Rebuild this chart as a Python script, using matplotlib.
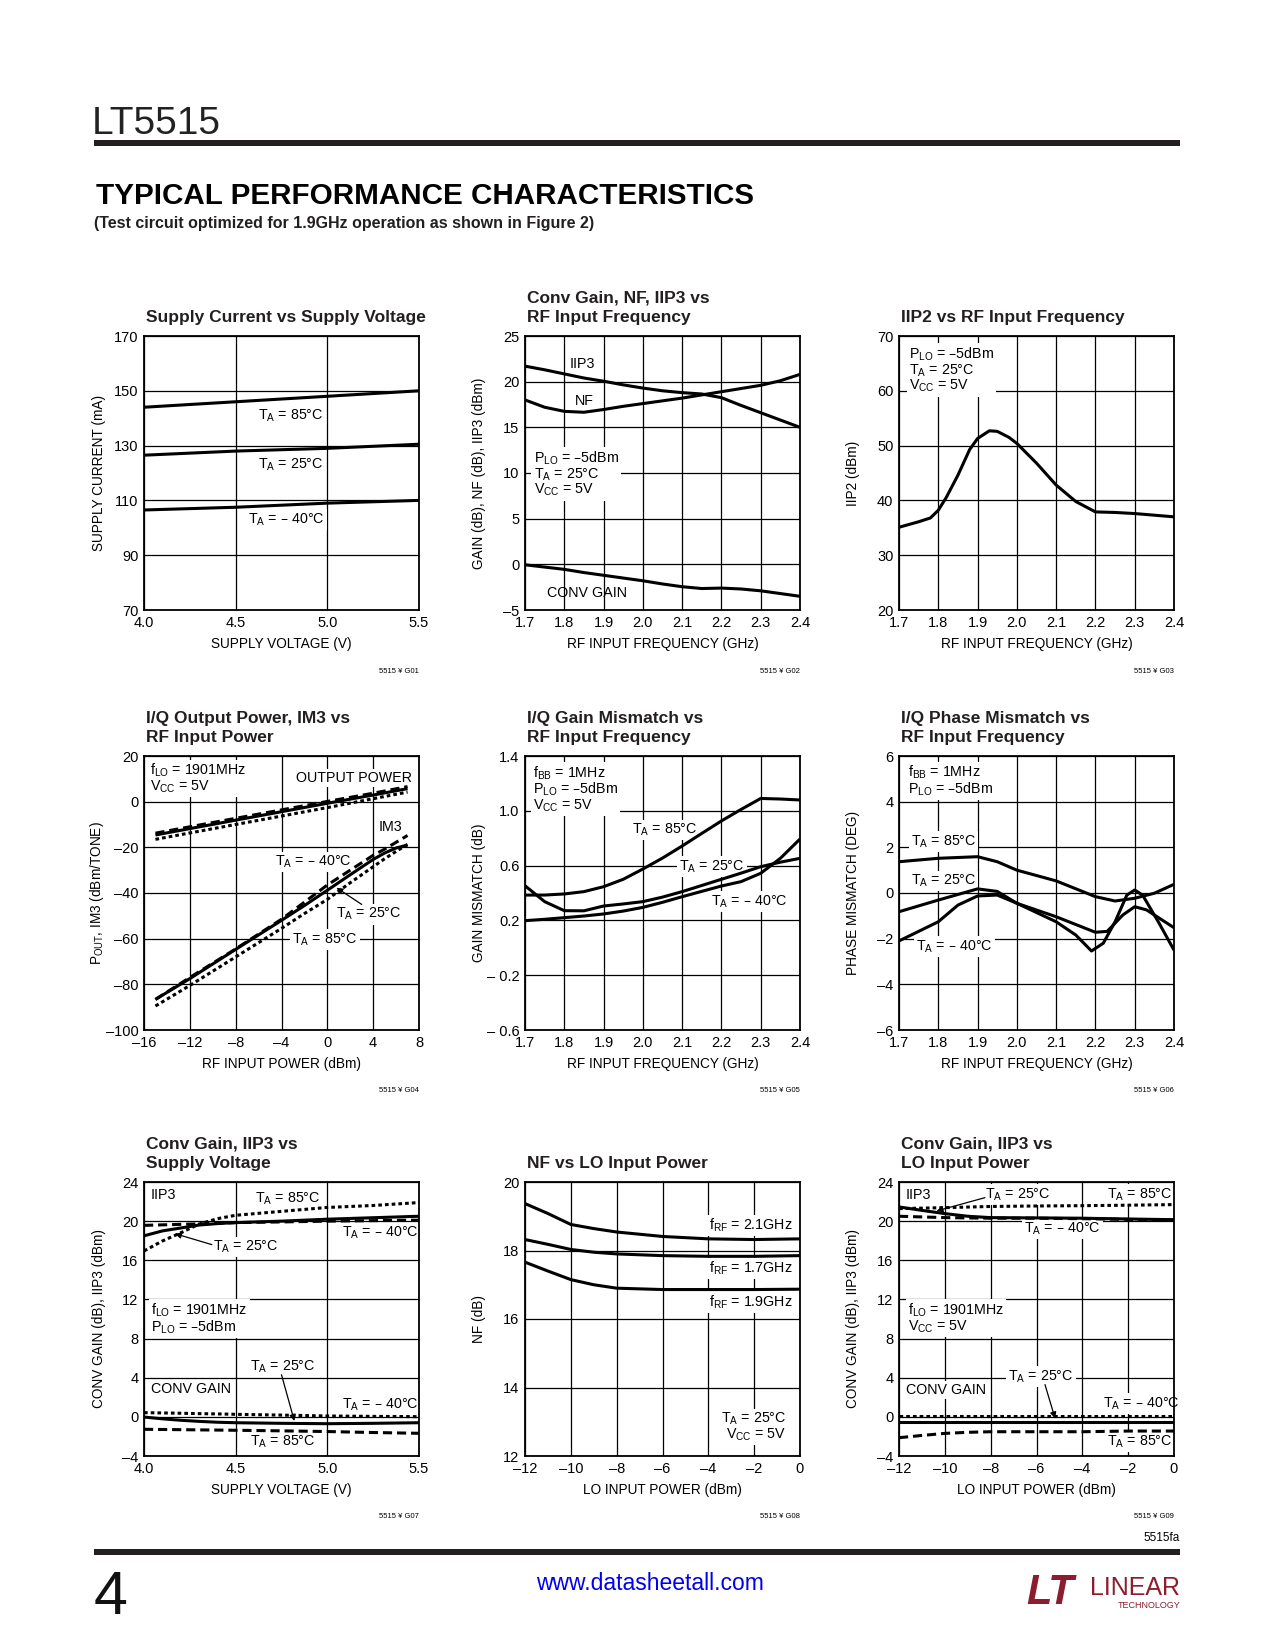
import matplotlib
matplotlib.use("Agg")
import matplotlib.pyplot as plt
from matplotlib.patches import Rectangle

plt.rcParams['font.family'] = ['Liberation Sans', 'DejaVu Sans']

# ---------------- data ----------------
# G01 supply current vs supply voltage
g01_v = [4.0, 4.5, 5.0, 5.5]
g01_i85 = [144, 146, 148, 150]
g01_i25 = [126.5, 128, 129, 130.5]
g01_im40 = [106.5, 107.5, 109, 110]

# G02 conv gain, NF, IIP3 vs RF frequency
g02_f = [1.7, 1.75, 1.8, 1.85, 1.9, 1.95, 2.0, 2.05, 2.1, 2.15, 2.2, 2.25, 2.3, 2.35, 2.4]
g02_iip3 = [21.7, 21.3, 20.85, 20.4, 20.05, 19.65, 19.3, 19.0, 18.8, 18.65, 18.25, 17.4, 16.6, 15.8, 15.0]
g02_nf = [18.0, 17.2, 16.75, 16.65, 16.95, 17.3, 17.6, 17.9, 18.2, 18.55, 18.9, 19.25, 19.6, 20.1, 20.8]
g02_gain = [-0.05, -0.3, -0.55, -0.9, -1.2, -1.5, -1.8, -2.15, -2.45, -2.65, -2.6, -2.7, -2.9, -3.2, -3.5]

# G03 IIP2 vs RF frequency
g03_f = [1.7, 1.75, 1.78, 1.8, 1.82, 1.85, 1.88, 1.9, 1.93, 1.95, 1.98, 2.0,
         2.05, 2.1, 2.15, 2.2, 2.25, 2.3, 2.35, 2.4]
g03_iip2 = [35.1, 36.1, 36.8, 38.2, 40.5, 44.6, 49.3, 51.3, 52.7, 52.6, 51.5, 50.4,
            46.8, 42.8, 39.8, 37.9, 37.8, 37.6, 37.3, 37.0]

# G04 output power / IM3 vs RF input power
g04_pin = [-15, -12, -8, -4, 0, 4, 7]
g04_out_m40 = [-13.8, -11.0, -7.3, -3.6, 0.1, 3.7, 6.6]
g04_out_25 = [-14.6, -11.8, -8.1, -4.4, -0.7, 2.9, 5.7]
g04_out_85 = [-16.5, -13.7, -10.0, -6.3, -2.6, 1.3, 4.2]
g04_pin_im3 = [-15, -12, -8, -4, -2, 0, 2, 4, 5, 6, 7]
g04_im3_25 = [-86.6, -77.5, -64.7, -52.0, -45.5, -38.8, -32.0, -25.3, -22.5, -20.3, -19.0]
g04_im3_m40 = [-86.6, -77.0, -64.5, -51.5, -44.0, -36.5, -30.0, -23.5, -20.8, -17.8, -14.8]
g04_im3_85 = [-89.5, -80.5, -68.0, -55.5, -49.0, -42.8, -35.5, -28.5, -25.0, -21.8, -18.7]

# G05 I/Q gain mismatch vs RF frequency
g05_f = [1.7, 1.75, 1.8, 1.85, 1.9, 1.95, 2.0, 2.05, 2.1, 2.15, 2.2, 2.25, 2.3, 2.35, 2.4]
g05_85 = [0.385, 0.385, 0.393, 0.41, 0.446, 0.5, 0.575, 0.655, 0.743, 0.835, 0.926, 1.01, 1.09, 1.086, 1.079]
g05_25 = [0.453, 0.337, 0.271, 0.27, 0.305, 0.32, 0.337, 0.37, 0.41, 0.455, 0.5, 0.545, 0.592, 0.625, 0.653]
g05_m40 = [0.198, 0.208, 0.22, 0.232, 0.247, 0.268, 0.295, 0.332, 0.373, 0.412, 0.451, 0.483, 0.544, 0.653, 0.794]

# G06 I/Q phase mismatch vs RF frequency
g06_f85 = [1.7, 1.8, 1.9, 1.95, 2.0, 2.1, 2.2, 2.25, 2.3, 2.35, 2.4]
g06_85 = [1.37, 1.52, 1.59, 1.37, 1.0, 0.53, -0.16, -0.35, -0.23, -0.01, 0.38]
g06_f25 = [1.7, 1.8, 1.9, 1.95, 2.0, 2.1, 2.2, 2.23, 2.27, 2.3, 2.33, 2.4]
g06_25 = [-0.82, -0.31, 0.18, 0.07, -0.45, -1.04, -1.72, -1.68, -0.96, -0.6, -0.74, -1.52]
g06_fm40 = [1.7, 1.8, 1.85, 1.9, 1.95, 2.0, 2.1, 2.15, 2.19, 2.22, 2.25, 2.28, 2.3, 2.32, 2.36, 2.4]
g06_m40 = [-2.1, -1.26, -0.53, -0.13, -0.09, -0.45, -1.26, -1.84, -2.54, -2.2, -1.26, -0.09, 0.13, -0.09, -1.26, -2.5]

# G07 conv gain, IIP3 vs supply voltage
g07_v = [4.0, 4.1, 4.2, 4.3, 4.4, 4.5, 4.75, 5.0, 5.25, 5.5]
g07_iip3_85 = [16.95, 17.97, 18.8, 19.7, 20.25, 20.6, 21.0, 21.4, 21.6, 21.9]
g07_iip3_25 = [18.5, 19.0, 19.3, 19.6, 19.75, 19.85, 20.0, 20.2, 20.35, 20.5]
g07_iip3_m40 = [19.57, 19.62, 19.67, 19.72, 19.78, 19.85, 19.92, 20.0, 20.05, 20.1]
g07_gain_m40 = [0.43, 0.4, 0.37, 0.33, 0.3, 0.26, 0.18, 0.09, 0.05, 0.02]
g07_gain_25 = [-0.02, -0.2, -0.35, -0.46, -0.55, -0.6, -0.66, -0.7, -0.66, -0.6]
g07_gain_85 = [-1.27, -1.29, -1.31, -1.33, -1.35, -1.37, -1.43, -1.5, -1.6, -1.68]

# G08 NF vs LO input power
g08_plo = [-12, -11, -10, -9, -8, -6, -4, -2, 0]
g08_nf21 = [19.37, 19.08, 18.76, 18.64, 18.54, 18.41, 18.34, 18.32, 18.34]
g08_nf17 = [18.32, 18.18, 18.03, 17.95, 17.9, 17.85, 17.83, 17.83, 17.85]
g08_nf19 = [17.66, 17.4, 17.15, 17.0, 16.9, 16.86, 16.86, 16.86, 16.87]

# G09 conv gain, IIP3 vs LO input power
g09_plo = [-12, -11, -10, -9, -8, -6, -4, -2, 0]
g09_iip3_85 = [21.28, 21.33, 21.38, 21.44, 21.5, 21.55, 21.58, 21.63, 21.69]
g09_iip3_25 = [21.45, 21.1, 20.77, 20.5, 20.36, 20.33, 20.3, 20.22, 20.15]
g09_iip3_m40 = [20.5, 20.43, 20.36, 20.33, 20.3, 20.3, 20.25, 20.18, 20.1]
g09_gain_m40 = [0.11, 0.11, 0.11, 0.11, 0.11, 0.11, 0.11, 0.11, 0.11]
g09_gain_25 = [-0.5, -0.5, -0.5, -0.5, -0.5, -0.5, -0.5, -0.5, -0.5]
g09_gain_85 = [-2.13, -1.9, -1.69, -1.58, -1.52, -1.52, -1.52, -1.45, -1.45]

# tick values and labels
freq_ticks = [1.7, 1.8, 1.9, 2.0, 2.1, 2.2, 2.3, 2.4]
freq_labels = ['1.7', '1.8', '1.9', '2.0', '2.1', '2.2', '2.3', '2.4']
volt_ticks = [4.0, 4.5, 5.0, 5.5]
volt_labels = ['4.0', '4.5', '5.0', '5.5']
lo_ticks = [-12, -10, -8, -6, -4, -2, 0]
lo_labels = ['–12', '–10', '–8', '–6', '–4', '–2', '0']
gain_ticks = [-4, 0, 4, 8, 12, 16, 20, 24]
gain_labels = ['–4', '0', '4', '8', '12', '16', '20', '24']

# ---------------- figure ----------------
W, H = 1275, 1650
fig = plt.figure(figsize=(12.75, 16.5), dpi=100)


def fx(x):
    return x / W


def fy(y):
    return 1 - y / H


cols = [144, 525, 899]
rows = [336, 756, 1182]
AW, AH = 275, 274

SOLID = dict(color='black', lw=2.2, solid_capstyle='butt', zorder=2)
DASH = dict(color='black', lw=2.2, ls=(0, (3, 1.6)), zorder=2)
DOT = dict(color='black', lw=2.2, ls=(0, (1.2, 1.0)), zorder=2)

TS = 10.5     # tick labels
LS = 9.8      # axis labels
NS = 10.3     # notes inside plots
SUB = r'$_\mathregular{%s}$'


def T(sub):
    return SUB % sub


def make_ax(c, r, title, code, xlim, ylim, xt, xl, yt, yl, xlabel, ylabel):
    ax = fig.add_axes([fx(cols[c]), fy(rows[r] + AH), AW / W, AH / H])
    ax.set_xlim(xlim)
    ax.set_ylim(ylim)
    ax.set_xticks(xt)
    ax.set_xticklabels(xl)
    ax.set_yticks(yt)
    ax.set_yticklabels(yl)
    ax.tick_params(length=0, labelsize=TS, pad=4)
    ax.grid(True, color='black', lw=0.9)
    ax.set_axisbelow(True)
    for s in ax.spines.values():
        s.set_linewidth(1.3)
    ax.set_xlabel(xlabel, fontsize=LS)
    ax.set_ylabel(ylabel, fontsize=LS)
    ax.xaxis.set_label_coords(0.5, -0.097)
    ax.yaxis.set_label_coords(-0.14, 0.5)
    fig.text(fx(cols[c] + 2), fy(rows[r] - 11), title, fontsize=12.5,
             fontweight='bold', ha='left', va='bottom', linespacing=1.35,
             color='#231f20')
    fig.text(fx(cols[c] + AW), fy(rows[r] + AH + 61), code, fontsize=5.5,
             ha='right', va='center')
    return ax


def note(ax, x, y, s, ha='left', va='center', box=True, ls=1.0):
    # white box hides the grid behind the label; curves stay on top
    kw = dict(fontsize=NS, ha=ha, va=va, linespacing=ls, zorder=1.5)
    if box:
        kw['bbox'] = dict(facecolor='white', edgecolor='none', pad=1.5)
    ax.text(x, y, s, **kw)


def arrow(ax, start, end):
    ax.annotate('', xy=end, xytext=start,
                arrowprops=dict(arrowstyle='-|>', color='black', lw=0.9,
                                mutation_scale=9, shrinkA=0, shrinkB=0))


# ---- G01
ax = make_ax(0, 0, 'Supply Current vs Supply Voltage', '5515 ¥ G01',
             (4.0, 5.5), (70, 170), volt_ticks, volt_labels,
             [70, 90, 110, 130, 150, 170], ['70', '90', '110', '130', '150', '170'],
             'SUPPLY VOLTAGE (V)', 'SUPPLY CURRENT (mA)')
ax.plot(g01_v, g01_i85, **SOLID)
ax.plot(g01_v, g01_i25, **SOLID)
ax.plot(g01_v, g01_im40, **SOLID)
note(ax, 4.62, 141, 'T' + T('A') + ' = 85°C')
note(ax, 4.62, 123, 'T' + T('A') + ' = 25°C')
note(ax, 4.57, 103, 'T' + T('A') + ' = – 40°C')

# ---- G02
ax = make_ax(1, 0, 'Conv Gain, NF, IIP3 vs\nRF Input Frequency', '5515 ¥ G02',
             (1.7, 2.4), (-5, 25), freq_ticks, freq_labels,
             [-5, 0, 5, 10, 15, 20, 25], ['–5', '0', '5', '10', '15', '20', '25'],
             'RF INPUT FREQUENCY (GHz)', 'GAIN (dB), NF (dB), IIP3 (dBm)')
ax.plot(g02_f, g02_iip3, **SOLID)
ax.plot(g02_f, g02_nf, **SOLID)
ax.plot(g02_f, g02_gain, **SOLID)
note(ax, 1.813, 21.9, 'IIP3')
note(ax, 1.826, 17.9, 'NF')
note(ax, 1.722, 9.9, 'P' + T('LO') + ' = –5dBm\nT' + T('A') + ' = 25°C\nV' + T('CC') + ' = 5V', ls=0.95)
note(ax, 1.755, -3.1, 'CONV GAIN', box=False)

# ---- G03
ax = make_ax(2, 0, 'IIP2 vs RF Input Frequency', '5515 ¥ G03',
             (1.7, 2.4), (20, 70), freq_ticks, freq_labels,
             [20, 30, 40, 50, 60, 70], ['20', '30', '40', '50', '60', '70'],
             'RF INPUT FREQUENCY (GHz)', 'IIP2 (dBm)')
ax.plot(g03_f, g03_iip2, **SOLID)
note(ax, 1.725, 63.8, 'P' + T('LO') + ' = –5dBm\nT' + T('A') + ' = 25°C\nV' + T('CC') + ' = 5V', ls=0.95)

# ---- G04
ax = make_ax(0, 1, 'I/Q Output Power, IM3 vs\nRF Input Power', '5515 ¥ G04',
             (-16, 8), (-100, 20), [-16, -12, -8, -4, 0, 4, 8],
             ['–16', '–12', '–8', '–4', '0', '4', '8'],
             [-100, -80, -60, -40, -20, 0, 20], ['–100', '–80', '–60', '–40', '–20', '0', '20'],
             'RF INPUT POWER (dBm)', 'P' + T('OUT') + ', IM3 (dBm/TONE)')
ax.plot(g04_pin, g04_out_m40, **DASH)
ax.plot(g04_pin, g04_out_25, **SOLID)
ax.plot(g04_pin, g04_out_85, **DOT)
ax.plot(g04_pin_im3, g04_im3_m40, **DASH)
ax.plot(g04_pin_im3, g04_im3_25, **SOLID)
ax.plot(g04_pin_im3, g04_im3_85, **DOT)
note(ax, -15.5, 10.2, 'f' + T('LO') + ' = 1901MHz\nV' + T('CC') + ' = 5V', ls=0.95)
note(ax, -2.76, 10.5, 'OUTPUT POWER')
note(ax, 4.45, -11.1, 'IM3')
note(ax, -4.57, -26.4, 'T' + T('A') + ' = – 40°C')
note(ax, 0.8, -49.3, 'T' + T('A') + ' = 25°C')
arrow(ax, (3.0, -45.0), (0.8, -37.7))
note(ax, -3.05, -60.3, 'T' + T('A') + ' = 85°C')

# ---- G05
ax = make_ax(1, 1, 'I/Q Gain Mismatch vs\nRF Input Frequency', '5515 ¥ G05',
             (1.7, 2.4), (-0.6, 1.4), freq_ticks, freq_labels,
             [-0.6, -0.2, 0.2, 0.6, 1.0, 1.4], ['– 0.6', '– 0.2', '0.2', '0.6', '1.0', '1.4'],
             'RF INPUT FREQUENCY (GHz)', 'GAIN MISMATCH (dB)')
ax.plot(g05_f, g05_85, **SOLID)
ax.plot(g05_f, g05_25, **SOLID)
ax.plot(g05_f, g05_m40, **SOLID)
note(ax, 1.721, 1.157, 'f' + T('BB') + ' = 1MHz\nP' + T('LO') + ' = –5dBm\nV' + T('CC') + ' = 5V', ls=0.95)
note(ax, 1.973, 0.86, 'T' + T('A') + ' = 85°C')
note(ax, 2.092, 0.592, 'T' + T('A') + ' = 25°C')
note(ax, 2.174, 0.337, 'T' + T('A') + ' = – 40°C')

# ---- G06
ax = make_ax(2, 1, 'I/Q Phase Mismatch vs\nRF Input Frequency', '5515 ¥ G06',
             (1.7, 2.4), (-6, 6), freq_ticks, freq_labels,
             [-6, -4, -2, 0, 2, 4, 6], ['–6', '–4', '–2', '0', '2', '4', '6'],
             'RF INPUT FREQUENCY (GHz)', 'PHASE MISMATCH (DEG)')
ax.plot(g06_f85, g06_85, **SOLID)
ax.plot(g06_f25, g06_25, **SOLID)
ax.plot(g06_fm40, g06_m40, **SOLID)
note(ax, 1.724, 4.91, 'f' + T('BB') + ' = 1MHz\nP' + T('LO') + ' = –5dBm', ls=0.95)
note(ax, 1.73, 2.25, 'T' + T('A') + ' = 85°C')
note(ax, 1.73, 0.53, 'T' + T('A') + ' = 25°C')
note(ax, 1.743, -2.35, 'T' + T('A') + ' = – 40°C')

# ---- G07
ax = make_ax(0, 2, 'Conv Gain, IIP3 vs\nSupply Voltage', '5515 ¥ G07',
             (4.0, 5.5), (-4, 24), volt_ticks, volt_labels, gain_ticks, gain_labels,
             'SUPPLY VOLTAGE (V)', 'CONV GAIN (dB), IIP3 (dBm)')
ax.plot(g07_v, g07_iip3_85, **DOT)
ax.plot(g07_v, g07_iip3_25, **SOLID)
ax.plot(g07_v, g07_iip3_m40, **DASH)
ax.plot(g07_v, g07_gain_m40, **DOT)
ax.plot(g07_v, g07_gain_25, **SOLID)
ax.plot(g07_v, g07_gain_85, **DASH)
note(ax, 4.036, 22.67, 'IIP3')
note(ax, 4.605, 22.3, 'T' + T('A') + ' = 85°C')
note(ax, 5.078, 18.8, 'T' + T('A') + ' = – 40°C')
note(ax, 4.378, 17.36, 'T' + T('A') + ' = 25°C')
arrow(ax, (4.37, 17.6), (4.169, 18.72))
note(ax, 4.04, 10.05, 'f' + T('LO') + ' = 1901MHz\nP' + T('LO') + ' = –5dBm', ls=0.95)
note(ax, 4.036, 2.82, 'CONV GAIN')
note(ax, 4.58, 5.13, 'T' + T('A') + ' = 25°C')
arrow(ax, (4.75, 4.3), (4.82, -0.42))
note(ax, 5.078, 1.28, 'T' + T('A') + ' = – 40°C')
note(ax, 4.58, -2.53, 'T' + T('A') + ' = 85°C')

# ---- G08
ax = make_ax(1, 2, 'NF vs LO Input Power', '5515 ¥ G08',
             (-12, 0), (12, 20), lo_ticks, lo_labels,
             [12, 14, 16, 18, 20], ['12', '14', '16', '18', '20'],
             'LO INPUT POWER (dBm)', 'NF (dB)')
ax.plot(g08_plo, g08_nf21, **SOLID)
ax.plot(g08_plo, g08_nf17, **SOLID)
ax.plot(g08_plo, g08_nf19, **SOLID)
note(ax, -0.33, 18.73, 'f' + T('RF') + ' = 2.1GHz', ha='right')
note(ax, -0.33, 17.47, 'f' + T('RF') + ' = 1.7GHz', ha='right')
note(ax, -0.33, 16.5, 'f' + T('RF') + ' = 1.9GHz', ha='right')
note(ax, -0.6, 12.85, 'T' + T('A') + ' = 25°C\nV' + T('CC') + ' = 5V', ha='right', ls=0.95)

# ---- G09
ax = make_ax(2, 2, 'Conv Gain, IIP3 vs\nLO Input Power', '5515 ¥ G09',
             (-12, 0), (-4, 24), lo_ticks, lo_labels, gain_ticks, gain_labels,
             'LO INPUT POWER (dBm)', 'CONV GAIN (dB), IIP3 (dBm)')
ax.plot(g09_plo, g09_iip3_85, **DOT)
ax.plot(g09_plo, g09_iip3_25, **SOLID)
ax.plot(g09_plo, g09_iip3_m40, **DASH)
ax.plot(g09_plo, g09_gain_m40, **DOT)
ax.plot(g09_plo, g09_gain_25, **SOLID)
ax.plot(g09_plo, g09_gain_85, **DASH)
note(ax, -11.7, 22.7, 'IIP3')
note(ax, -8.25, 22.7, 'T' + T('A') + ' = 25°C')
arrow(ax, (-8.25, 22.4), (-10.36, 21.04))
note(ax, -2.94, 22.7, 'T' + T('A') + ' = 85°C')
note(ax, -6.55, 19.24, 'T' + T('A') + ' = – 40°C')
note(ax, -11.62, 10.1, 'f' + T('LO') + ' = 1901MHz\nV' + T('CC') + ' = 5V', ls=0.95)
note(ax, -11.7, 2.73, 'CONV GAIN')
note(ax, -7.23, 4.1, 'T' + T('A') + ' = 25°C')
arrow(ax, (-5.63, 3.3), (-5.19, -0.16))
note(ax, -3.08, 1.37, 'T' + T('A') + ' = – 40°C')
note(ax, -2.94, -2.53, 'T' + T('A') + ' = 85°C')

# ---------------- page header / footer ----------------
fig.text(fx(92), fy(134), 'LT5515', fontsize=28, color='#222222', ha='left', va='baseline')
fig.add_artist(Rectangle((fx(94), fy(146)), (1180 - 94) / W, 6 / H,
                         transform=fig.transFigure, color='#231f20', lw=0))
fig.text(fx(96), fy(204), 'TYPICAL PERFORMANCE CHARACTERISTICS', fontsize=21.3,
         fontweight='bold', ha='left', va='baseline')
fig.text(fx(94), fy(228), '(Test circuit optimized for 1.9GHz operation as shown in Figure 2)',
         fontsize=11.5, fontweight='bold', color='#231f20', ha='left', va='baseline')

fig.text(fx(1180), fy(1538), '5515fa', fontsize=8.5, ha='right', va='center')
fig.add_artist(Rectangle((fx(94), fy(1555)), (1180 - 94) / W, 6 / H,
                         transform=fig.transFigure, color='#231f20', lw=0))
fig.text(fx(94), fy(1614), '4', fontsize=44, ha='left', va='baseline', color='#111111')
fig.text(fx(650), fy(1583), 'www.datasheetall.com', fontsize=16.5, color='#0000ee',
         ha='center', va='center')
fig.text(fx(1050), fy(1593), 'LT', fontsize=30, fontweight='bold', style='italic',
         color='#8c1d2e', ha='center', va='center')
fig.text(fx(1180), fy(1588), 'LINEAR', fontsize=18, color='#8c1d2e', ha='right', va='center')
fig.text(fx(1180), fy(1606), 'TECHNOLOGY', fontsize=6.5, color='#8c1d2e', ha='right', va='center')

fig.savefig('out.png', dpi=100, facecolor='white')
